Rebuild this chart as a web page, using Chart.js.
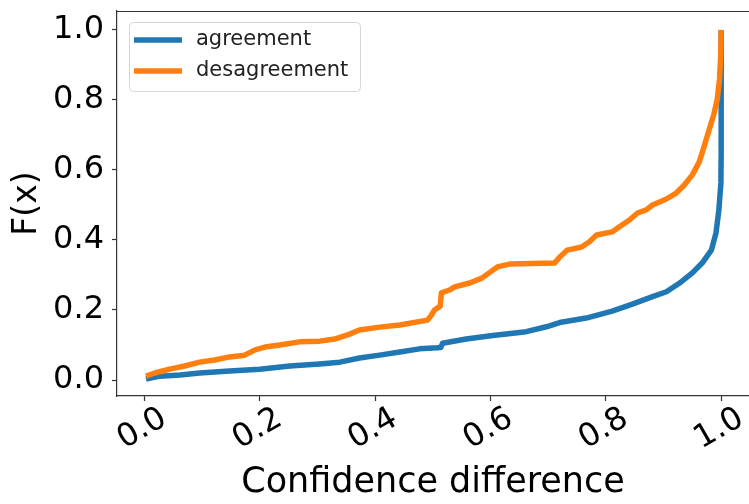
<!DOCTYPE html>
<html><head><meta charset="utf-8">
<script src="https://cdn.jsdelivr.net/npm/chart.js@4/dist/chart.umd.min.js"></script>
<style>html,body{margin:0;padding:0;background:#fff}#wrap{width:749px;height:504px}</style>
</head><body><div id="wrap"><canvas id="c" width="749" height="504"></canvas></div>
<script>
const seriesNames = ['agreement', 'desagreement'];
const xTitle = 'Confidence difference';
const yTitle = 'F(x)';
const xTicks = [0, 0.2, 0.4, 0.6, 0.8, 1.0];
const yTicks = [0, 0.2, 0.4, 0.6, 0.8, 1.0];

const agreeX = [0.003,0.027,0.062,0.096,0.148,0.200,0.252,0.304,0.339,0.373,0.408,0.443,0.477,0.508,0.514,0.517,0.558,0.604,0.662,0.697,0.720,0.766,0.811,0.846,0.881,0.905,0.928,0.950,0.967,0.983,0.991,0.996,0.9995,1.0,1.0];
const agreeY = [0.003,0.011,0.014,0.020,0.026,0.031,0.040,0.046,0.051,0.063,0.071,0.080,0.089,0.092,0.093,0.105,0.117,0.127,0.138,0.152,0.164,0.177,0.197,0.217,0.238,0.252,0.277,0.306,0.334,0.371,0.420,0.486,0.563,0.657,1.0];

const disX = [0.003,0.018,0.044,0.070,0.096,0.122,0.148,0.174,0.192,0.209,0.235,0.269,0.304,0.330,0.356,0.373,0.408,0.443,0.491,0.498,0.503,0.513,0.515,0.529,0.538,0.564,0.585,0.602,0.612,0.633,0.711,0.719,0.733,0.758,0.771,0.784,0.811,0.823,0.841,0.855,0.870,0.881,0.905,0.922,0.936,0.950,0.962,0.970,0.979,0.987,0.993,0.997,0.999,1.0];
const disY = [0.011,0.020,0.031,0.040,0.051,0.057,0.066,0.071,0.086,0.094,0.100,0.109,0.111,0.117,0.131,0.143,0.151,0.157,0.171,0.186,0.200,0.211,0.249,0.257,0.266,0.277,0.291,0.311,0.323,0.331,0.334,0.349,0.371,0.380,0.394,0.414,0.423,0.437,0.457,0.477,0.486,0.500,0.517,0.534,0.557,0.586,0.623,0.665,0.714,0.757,0.800,0.857,0.920,1.0];

const colors = ['#1f77b4', '#ff7f0e'];
const FONT = '"DejaVu Sans", sans-serif';
const TICK_SIZE = 32;

const toPts = (xs, ys) => xs.map((x, i) => ({x: x, y: ys[i]}));

const framePlugin = {
  id: 'frame',
  afterDraw(chart) {
    const ctx = chart.ctx, a = chart.chartArea;
    ctx.save();
    ctx.strokeStyle = '#333'; ctx.lineWidth = 1.2;
    ctx.beginPath();
    ctx.moveTo(a.left, a.top + 0.5); ctx.lineTo(a.right + 2, a.top + 0.5);
    ctx.stroke();
    const xs = chart.scales.x;
    ctx.font = TICK_SIZE + 'px ' + FONT;
    ctx.fillStyle = '#000'; ctx.textAlign = 'center'; ctx.textBaseline = 'middle';
    xTicks.forEach(v => {
      const px = xs.getPixelForValue(v);
      ctx.save();
      ctx.translate(px - 2, a.bottom + 33);
      ctx.rotate(-Math.PI / 6);
      ctx.fillText(v.toFixed(1), 0, 0);
      ctx.restore();
    });
    const lx = a.left + 12, ly = a.top + 11, lw = 231, lh = 69;
    ctx.beginPath();
    if (ctx.roundRect) ctx.roundRect(lx + 0.5, ly + 0.5, lw, lh, 4); else ctx.rect(lx + 0.5, ly + 0.5, lw, lh);
    ctx.fillStyle = 'rgba(255,255,255,0.8)'; ctx.fill();
    ctx.strokeStyle = '#d6d6d6'; ctx.lineWidth = 1; ctx.stroke();
    ctx.font = '21px ' + FONT; ctx.textAlign = 'left'; ctx.textBaseline = 'middle';
    chart.data.datasets.forEach((ds, i) => {
      const yy = ly + 18 + i * 31;
      ctx.strokeStyle = ds.borderColor; ctx.lineWidth = 5.5; ctx.lineCap = 'butt';
      ctx.beginPath(); ctx.moveTo(lx + 5, yy); ctx.lineTo(lx + 53, yy); ctx.stroke();
      ctx.fillStyle = '#222';
      ctx.fillText(ds.label, lx + 67, yy);
    });
    ctx.restore();
  }
};

new Chart(document.getElementById('c'), {
  type: 'scatter',
  data: {
    datasets: [
      {label: seriesNames[0], data: toPts(agreeX, agreeY), borderColor: colors[0], backgroundColor: colors[0], showLine: true, pointRadius: 0, borderWidth: 5.5, tension: 0, borderJoinStyle: 'round', borderCapStyle: 'butt', order: 1},
      {label: seriesNames[1], data: toPts(disX, disY), borderColor: colors[1], backgroundColor: colors[1], showLine: true, pointRadius: 0, borderWidth: 5.5, tension: 0, borderJoinStyle: 'round', borderCapStyle: 'butt', order: 0}
    ]
  },
  options: {
    responsive: false, animation: false, devicePixelRatio: 1,
    layout: {padding: {top: 11, right: 0, bottom: 0, left: 0}},
    plugins: {legend: {display: false}, tooltip: {enabled: false}},
    scales: {
      x: {
        type: 'linear', min: -0.0473, max: 1.0482,
        afterBuildTicks: s => { s.ticks = xTicks.map(v => ({value: v})); },
        afterFit: s => { s.height = 108; s.paddingLeft = 0; s.paddingRight = 0; },
        ticks: {display: false},
        grid: {drawOnChartArea: false, drawTicks: true, tickLength: 5, tickWidth: 1.2, tickColor: '#333'},
        border: {display: true, color: '#333', width: 1.2},
        title: {display: true, text: xTitle, color: '#000', font: {family: FONT, size: 35}, padding: {top: 0, bottom: 0}}
      },
      y: {
        type: 'linear', min: -0.0457, max: 1.054,
        afterBuildTicks: s => { s.ticks = yTicks.map(v => ({value: v})); },
        afterFit: s => { s.width = 117; s.paddingTop = 0; s.paddingBottom = 0; },
        ticks: {color: '#000', font: {family: FONT, size: TICK_SIZE}, padding: 8, callback: v => Number(v).toFixed(1)},
        grid: {drawOnChartArea: false, drawTicks: true, tickLength: 5, tickWidth: 1.2, tickColor: '#333'},
        border: {display: true, color: '#333', width: 1.2},
        title: {display: true, text: yTitle, color: '#000', font: {family: FONT, size: 33}, padding: {top: 8, bottom: 0}}
      }
    }
  },
  plugins: [framePlugin]
});
</script></body></html>
